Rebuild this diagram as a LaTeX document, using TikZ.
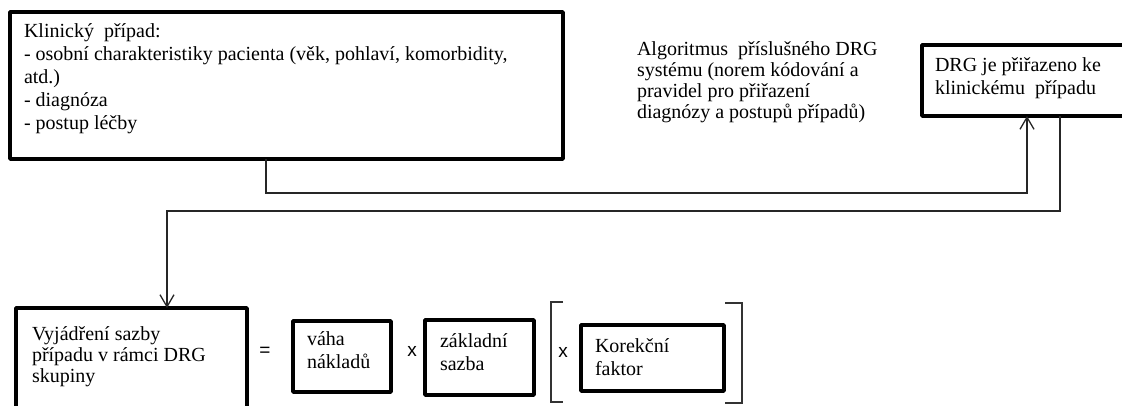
\documentclass[tikz,border=0pt]{standalone}
\usepackage{fontspec}
\setmainfont{Liberation Serif}
\newfontfamily\arialfont{Liberation Sans}
\usetikzlibrary{arrows.meta}
\tikzset{
  thickbox/.style={draw=black, line width=3.6pt, line join=round, inner sep=0pt, outer sep=0pt},
  conn/.style={draw=black!85, line width=1.3pt},
  arr/.style={conn, -{Straight Barb[length=12pt,width=14pt,line width=1.3pt]}},
  txt/.style={inner sep=0pt, outer sep=0pt, anchor=base west, align=left,
    font=\fontsize{20}{23}\selectfont},
  op/.style={inner sep=0pt, font=\arialfont\fontsize{19}{22}\selectfont},
  brk/.style={draw=black!80, line width=1.4pt}
}
\begin{document}
\begin{tikzpicture}[x=1pt,y=-1pt]
\useasboundingbox (0,0) rectangle (1122,406);
% boxes
\node[thickbox, anchor=north west, minimum width=553pt, minimum height=147pt] (klin) at (10,12) {};
\node[thickbox, anchor=north west, minimum width=215pt, minimum height=71pt] (drg) at (922,45) {};
\node[thickbox, anchor=north west, minimum width=231pt, minimum height=115pt] (vyj) at (16,308) {};
\node[thickbox, anchor=north west, minimum width=98pt, minimum height=71pt] (vaha) at (293,321) {};
\node[thickbox, anchor=north west, minimum width=109pt, minimum height=75pt] (zakl) at (425,320) {};
\node[thickbox, anchor=north west, minimum width=143pt, minimum height=66pt] (kor) at (581,325) {};
% texts (anchored at the baseline of their last line)
\node[txt] (tklin) at (24,130) {Klinický\ \ případ:\\- osobní charakteristiky pacienta (věk, pohlaví, komorbidity,\\atd.)\\- diagnóza\\- postup léčby};
\node[txt, font=\fontsize{20}{21}\selectfont] (talg) at (637,119) {Algoritmus\ \ příslušného DRG\\systému (norem kódování a\\pravidel pro přiřazení\\diagnózy a postupů případů)};
\node[txt] (tdrg) at (935,95) {DRG je přiřazeno ke\\klinickému\ \ případu};
\node[txt, font=\fontsize{20}{21}\selectfont] (tvyj) at (32,382) {Vyjádření sazby\\případu v rámci DRG\\skupiny};
\node[txt] (tvaha) at (307,368) {váha\\nákladů};
\node[txt] (tzakl) at (440,370) {základní\\sazba};
\node[txt] (tkor) at (595,375) {Korekční\\faktor};
% operators
\node[op] (eq) at (265,352) {=};
\node[op] (x1) at (412,351) {x};
\node[op] (x2) at (563,352) {x};
% brackets
\draw[brk] (563,302) -- (551,302) -- (551,402) -- (563,402);
\draw[brk] (725,303) -- (742,303) -- (742,403) -- (725,403);
% connectors
\coordinate (c1a) at (266,193);
\coordinate (c1b) at (1027,193);
\draw[arr] (klin.south -| c1a) -- (c1a) -- (c1b) -- (c1b |- drg.south);
\coordinate (c2a) at (1060,211);
\coordinate (c2b) at (167,211);
\draw[arr] (drg.south -| c2a) -- (c2a) -- (c2b) -- (c2b |- vyj.north);
\end{tikzpicture}
\end{document}
